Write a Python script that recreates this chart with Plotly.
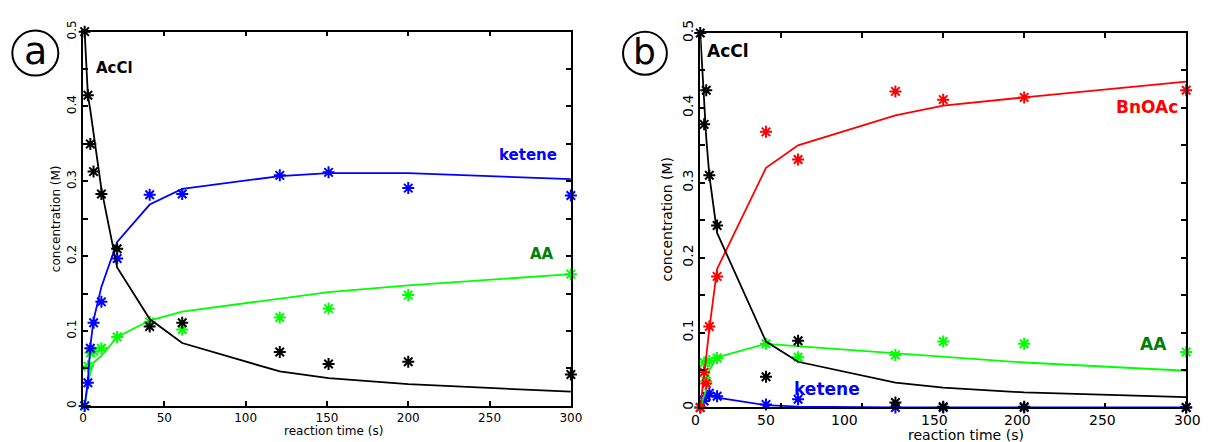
import plotly.graph_objects as go

# ---------------- data: panel (a) ----------------
time_a = [1, 3, 4.5, 6.5, 11.3, 21, 41, 61, 121, 151, 200, 300]
acc_exp_a = [0.5, 0.415, 0.350, 0.313, 0.283, 0.210, 0.106, 0.111, 0.072, 0.056, 0.059, 0.042]
ket_exp_a = [0, 0.031, 0.077, 0.111, 0.139, 0.197, 0.282, 0.283, 0.308, 0.312, 0.291, 0.281]
aa_exp_a = [0, 0.053, 0.071, 0.073, 0.077, 0.092, 0.112, 0.102, 0.118, 0.130, 0.148, 0.176]
acc_fit_a = [0.5, 0.415, 0.395, 0.365, 0.290, 0.185, 0.116, 0.084, 0.046, 0.037, 0.029, 0.019]
ket_fit_a = [0, 0.034, 0.080, 0.115, 0.159, 0.219, 0.269, 0.290, 0.307, 0.311, 0.311, 0.303]
aa_fit_a = [0, 0.026, 0.045, 0.058, 0.067, 0.092, 0.114, 0.126, 0.144, 0.152, 0.161, 0.176]

# ---------------- data: panel (b) ----------------
time_b = [0, 2.4, 3.7, 5.6, 10.4, 40.6, 60.4, 120.5, 150, 200, 300]
acc_exp_b = [0.5, 0.378, 0.4235, 0.310, 0.243, 0.041, 0.089, 0.0065, 0.001, 0.001, 0]
bn_exp_b = [0, 0.047, 0.032, 0.108, 0.175, 0.368, 0.331, 0.422, 0.411, 0.414, 0.4235]
aa_exp_b = [0, 0.060, 0.035, 0.062, 0.066, 0.085, 0.067, 0.070, 0.088, 0.085, 0.074]
ket_exp_b = [0, 0.0085, 0.015, 0.019, 0.015, 0.004, 0.011, 0.0, 0.0, 0.0, 0.0]
acc_fit_b = [0.5, 0.41, 0.36, 0.31, 0.233, 0.088, 0.061, 0.033, 0.0266, 0.020, 0.0137]
bn_fit_b = [0, 0.040, 0.068, 0.105, 0.185, 0.320, 0.350, 0.390, 0.403, 0.414, 0.435]
aa_fit_b = [0, 0.015, 0.024, 0.050, 0.067, 0.085, 0.082, 0.072, 0.0675, 0.060, 0.049]
ket_fit_b = [0, 0.011, 0.015, 0.018, 0.013, 0.003, 0.001, 0.0, 0.0, 0.0, 0.0]

# ---------------- ticks ----------------
x_tickvals = [0, 50, 100, 150, 200, 250, 300]
x_ticktext = ["0", "50", "100", "150", "200", "250", "300"]
# panel (b) tick labels sit slightly off their tick marks in the original
b_xlabel_pos = [-3.0, 40.9, 89.0, 144.5, 195.7, 248.2, 300.6]
y_tickvals = [0, 0.05, 0.1, 0.15, 0.2, 0.25, 0.3, 0.35, 0.4, 0.45, 0.5]
y_ticktext = ["0", "", "0.1", "", "0.2", "", "0.3", "", "0.4", "", "0.5"]

W, H = 1209, 442
FONT = "DejaVu Sans"
BLUE, GREEN, BLACK, RED = "#0000ff", "#00ff00", "#000000", "#ff0000"
DKGREEN = "#008000"

fig = go.Figure()


def series(x, yexp, yfit, color, xa, ya):
    fig.add_trace(go.Scatter(x=x, y=yfit, mode="lines", line=dict(color=color, width=1.8),
                             xaxis=xa, yaxis=ya, showlegend=False, hoverinfo="skip"))
    fig.add_trace(go.Scatter(x=x, y=yexp, mode="markers", cliponaxis=False,
                             marker=dict(symbol="asterisk-open", size=10, color=color,
                                         line=dict(color=color, width=2)),
                             xaxis=xa, yaxis=ya, showlegend=False, hoverinfo="skip"))


series(time_a, aa_exp_a, aa_fit_a, GREEN, "x", "y")
series(time_a, ket_exp_a, ket_fit_a, BLUE, "x", "y")
series(time_a, acc_exp_a, acc_fit_a, BLACK, "x", "y")

series(time_b, ket_exp_b, ket_fit_b, BLUE, "x2", "y2")
series(time_b, aa_exp_b, aa_fit_b, GREEN, "x2", "y2")
series(time_b, bn_exp_b, bn_fit_b, RED, "x2", "y2")
series(time_b, acc_exp_b, acc_fit_b, BLACK, "x2", "y2")


def px(x):
    return x / W


def py(y):
    return 1 - y / H


XB0, XB1 = px(705), px(1197)  # panel (b) x-domain

ax_common = dict(showgrid=False, zeroline=False, showline=True, linecolor="black",
                 linewidth=1.5, mirror="ticks", ticks="inside", ticklen=5, tickwidth=1.5,
                 tickcolor="black")

fig.update_layout(
    width=W, height=H, margin=dict(l=0, r=0, t=0, b=0),
    paper_bgcolor="white", plot_bgcolor="white",
    font=dict(family=FONT, color="black"),
    xaxis=dict(**ax_common, domain=[px(80), px(574)], range=[0, 300], anchor="y",
               tickvals=x_tickvals, ticktext=x_ticktext, tickfont=dict(size=12)),
    yaxis=dict(**ax_common, domain=[py(406.7), py(19.3)], range=[0, 0.5], anchor="x",
               tickvals=y_tickvals, ticktext=y_ticktext, tickangle=-90, tickfont=dict(size=12)),
    xaxis2=dict(**ax_common, domain=[XB0, XB1], range=[0, 300], anchor="y2",
                tickvals=x_tickvals, showticklabels=False),
    yaxis2=dict(**ax_common, domain=[py(408.3), py(20.7)], range=[0, 0.5], anchor="x2",
                tickvals=y_tickvals, ticktext=y_ticktext, tickangle=-90, tickfont=dict(size=14)),
)

annotations = [
    # axis titles
    dict(text="concentration (M)", x=px(52), y=py(213), textangle=-90, font=dict(size=12)),
    dict(text="reaction time (s)", x=px(334), y=py(433), font=dict(size=12)),
    dict(text="concentration (M)", x=px(671), y=py(214), textangle=-90, font=dict(size=14)),
    dict(text="reaction time (s)", x=px(974), y=py(437), font=dict(size=14)),
    # species labels
    dict(text="<b>AcCl</b>", x=px(112), y=py(57), font=dict(size=15, color=BLACK)),
    dict(text="<b>ketene</b>", x=px(531), y=py(147), font=dict(size=15, color=BLUE)),
    dict(text="<b>AA</b>", x=px(545), y=py(249), font=dict(size=15, color=DKGREEN)),
    dict(text="<b>AcCl</b>", x=px(733.5), y=py(39.5), font=dict(size=17, color=BLACK)),
    dict(text="<b>BnOAc</b>", x=px(1157.5), y=py(97), font=dict(size=17, color=RED)),
    dict(text="<b>AA</b>", x=px(1164), y=py(343), font=dict(size=17, color=DKGREEN)),
    dict(text="<b>ketene</b>", x=px(833.5), y=py(389), font=dict(size=17, color=BLUE)),
    # panel letters
    dict(text="a", x=px(32), y=py(39), font=dict(size=38)),
    dict(text="b", x=px(649), y=py(40), font=dict(size=36)),
]
# panel (b) x tick labels, mapped from the xaxis2 data range onto its paper domain
for pos, lab in zip(b_xlabel_pos, x_ticktext):
    annotations.append(dict(text=lab, x=XB0 + (XB1 - XB0) * pos / 300, y=py(421.7),
                            font=dict(size=14)))

for a in annotations:
    a.update(xref="paper", yref="paper", showarrow=False, xanchor="center", yanchor="middle")
    fig.add_annotation(**a)

for cx, cy, r in [(31.7, 41.5, 23.3), (649, 41.7, 22.2)]:
    fig.add_shape(type="circle", xref="paper", yref="paper",
                  x0=px(cx - r), x1=px(cx + r), y0=py(cy + r), y1=py(cy - r),
                  line=dict(color="black", width=2))

fig.write_html("out.html")
